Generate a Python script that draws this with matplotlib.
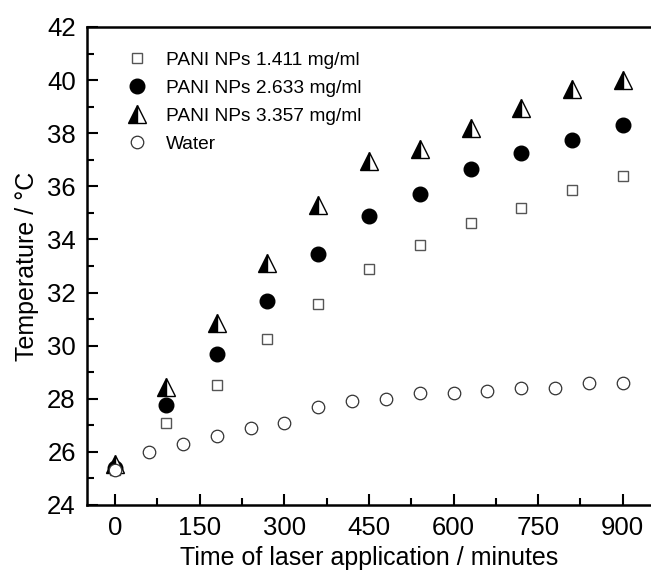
import matplotlib.pyplot as plt
from matplotlib.ticker import MultipleLocator

plt.rcParams['font.family'] = ['Liberation Sans', 'DejaVu Sans']

t_pani = [0, 90, 180, 270, 360, 450, 540, 630, 720, 810, 900]
pani_1411 = [25.3, 27.1, 28.5, 30.25, 31.55, 32.9, 33.8, 34.6, 35.2, 35.85, 36.4]
pani_2633 = [25.4, 27.75, 29.7, 31.7, 33.45, 34.9, 35.7, 36.65, 37.25, 37.75, 38.3]
pani_3357 = [25.55, 28.45, 30.85, 33.1, 35.3, 36.95, 37.4, 38.2, 38.95, 39.65, 40.0]

t_water = [0, 60, 120, 180, 240, 300, 360, 420, 480, 540, 600, 660, 720, 780, 840, 900]
water = [25.3, 26.0, 26.3, 26.6, 26.9, 27.1, 27.7, 27.9, 28.0, 28.2, 28.2, 28.3, 28.4, 28.4, 28.6, 28.6]

fig = plt.figure(figsize=(6.51, 5.73), dpi=100)
ax = fig.add_axes([0.1336, 0.1187, 0.8664, 0.8342])

ax.plot(t_pani, pani_1411, ls='none', marker='s', ms=7, mfc='white', mec='#555555', mew=1.0,
        label='PANI NPs 1.411 mg/ml')
ax.plot(t_pani, pani_2633, ls='none', marker='o', ms=10.5, mfc='black', mec='black',
        label='PANI NPs 2.633 mg/ml')
ax.plot(t_pani, pani_3357, ls='none', marker='^', ms=12.5, fillstyle='left', mfc='black',
        markerfacecoloralt='white', mec='black', mew=1.0, label='PANI NPs 3.357 mg/ml')
ax.plot(t_water, water, ls='none', marker='o', ms=9, mfc='white', mec='#333333', mew=0.9,
        label='Water')

ax.set_xlim(-50, 950)
ax.set_ylim(24, 42)
ax.xaxis.set_major_locator(MultipleLocator(150))
ax.xaxis.set_minor_locator(MultipleLocator(75))
ax.yaxis.set_major_locator(MultipleLocator(2))
ax.yaxis.set_minor_locator(MultipleLocator(1))
ax.tick_params(which='both', direction='in', top=False, right=False, labelsize=18.5, width=1.5)
ax.tick_params(which='major', length=8, pad=8)
ax.tick_params(which='minor', length=5)
ax.spines['right'].set_visible(False)
for s in ['left', 'bottom', 'top']:
    ax.spines[s].set_linewidth(1.8)

ax.set_xlabel('Time of laser application / minutes', fontsize=18)
ax.set_ylabel('Temperature / °C', fontsize=18, labelpad=6)

ax.legend(loc='upper left', bbox_to_anchor=(0.025, 0.985), frameon=False, fontsize=13.8,
          handletextpad=0.5, labelspacing=0.55)

fig.savefig('out.png', dpi=100)
